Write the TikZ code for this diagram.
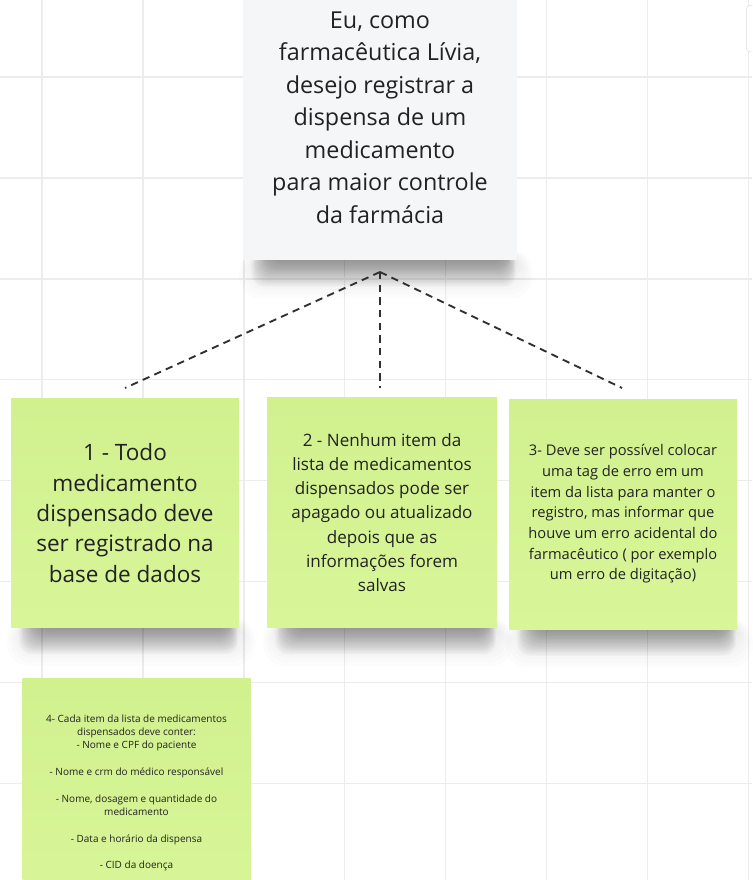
\documentclass[tikz,border=0pt]{standalone}
\usepackage{fontspec}
\setmainfont{Open Sans}
\usetikzlibrary{positioning,calc}
\definecolor{notegreen}{RGB}{216,246,152}
\definecolor{notegreentop}{RGB}{209,240,142}
\definecolor{notegray}{RGB}{245,246,248}
\definecolor{gridrule}{RGB}{236,236,236}
\definecolor{inktext}{RGB}{34,34,34}
\definecolor{linkdash}{RGB}{48,48,48}
\pgfdeclarelayer{background}
\pgfdeclarelayer{shade}
\pgfsetlayers{background,shade,main}
\tikzset{
        gridline/.style = {draw=gridrule, line width=1.1pt},
        sticky/.style = {rectangle, inner sep=0pt, text=inktext, align=center,
            top color=notegreentop, bottom color=notegreen},
        story/.style = {rectangle, inner sep=0pt, text=inktext, align=center,
            fill=notegray},
        link/.style = {draw=linkdash, line width=1.4pt,
            dash pattern=on 5.5pt off 4pt},
        dropshade/.style = {fill=black, opacity=0.024, rounded corners=9pt},
        halo/.style = {fill=black, opacity=0.011, rounded corners=16pt},
    }
% soft shadow under the bottom edge of a note
\newcommand{\noteshadow}[1]{%
  \foreach \k in {0,...,7}{
    \path[halo] ($(#1.south west)+(14-2.5*\k,-10)$)
      rectangle ($(#1.south east)+(-2+2.5*\k,10+4*\k)$);
  }
  \foreach \k in {0,...,15}{
    \path[dropshade] ($(#1.south west)+(28-1.3*\k,-10)$)
      rectangle ($(#1.south east)+(-12+0.7*\k,1+1.7*\k)$);
  }}

\begin{document}
\begin{tikzpicture}[x=0.75pt,y=0.75pt,yscale=-1,xscale=1]
\useasboundingbox (0,0) rectangle (752,880);
\clip (0,0) rectangle (752,880);

%Card at the right edge
\node (edgecard) [draw=gray!25, fill=white, rounded corners=3pt,
  minimum width=30pt, minimum height=35pt, anchor=north west] at (746,5) {};

%Story note
\node (story) [story, minimum width=205.5pt, minimum height=214pt,
  font=\fontsize{17.5}{24.4}\selectfont] at (380,117.5)
  {Eu, como\\ farmacêutica Lívia,\\ desejo registrar a\\ dispensa de um\\
   medicamento\\ para maior controle\\ da farmácia};

%Criteria notes
\node (crit1) [sticky, minimum width=171pt, minimum height=172pt,
  font=\fontsize{16.9}{22.8}\selectfont] at (125,513)
  {1 - Todo\\ medicamento\\ dispensado deve\\ ser registrado na\\ base de dados};
\node (crit2) [sticky, minimum width=172.5pt, minimum height=173pt,
  font=\fontsize{12.8}{18.2}\selectfont] at (382,512.5)
  {2 - Nenhum item da\\ lista de medicamentos\\ dispensados pode ser\\
   apagado ou atualizado\\ depois que as\\ informações forem\\ salvas};
\node (crit3) [sticky, minimum width=171pt, minimum height=172.5pt,
  font=\fontsize{11}{15.5}\selectfont] at (623,514)
  {3- Deve ser possível colocar\\ uma tag de erro em um\\ item da lista para manter o\\
   registro, mas informar que\\ houve um erro acidental do\\
   farmacêutico ( por exemplo\\ um erro de digitação)};
\node (crit4) [sticky, minimum width=171pt, minimum height=172.5pt,
  font=\fontsize{7.5}{10}\selectfont] at (136.5,793)
  {4- Cada item da lista de medicamentos\\ dispensados deve conter:\\
   - Nome e CPF do paciente\\[10pt] - Nome e crm do médico responsável\\[10pt]
   - Nome, dosagem e quantidade do\\ medicamento\\[10pt]
   - Data e horário da dispensa\\[10pt] - CID da doença};

%Shadows and grid behind the notes
\begin{pgfonlayer}{shade}
  \noteshadow{story}
  \noteshadow{crit1}
  \noteshadow{crit2}
  \noteshadow{crit3}
  \noteshadow{crit4}
\end{pgfonlayer}
\begin{pgfonlayer}{background}
  \fill[white] (0,0) rectangle (752,880);
  \foreach \i in {0,...,7}{
    \draw[gridline] (42+100.9*\i,0) -- (42+100.9*\i,880);
    \draw[gridline] (0,77+100.9*\i) -- (752,77+100.9*\i);
  }
\end{pgfonlayer}

%Dashed links
\coordinate (fork) at (380,272);
\coordinate (tip1) at (125,388);
\coordinate (tip2) at (380,388);
\coordinate (tip3) at (622,388);
\draw[link] (fork) -- (tip1);
\draw[link] (fork) -- (tip2);
\draw[link] (fork) -- (tip3);

\end{tikzpicture}
\end{document}
